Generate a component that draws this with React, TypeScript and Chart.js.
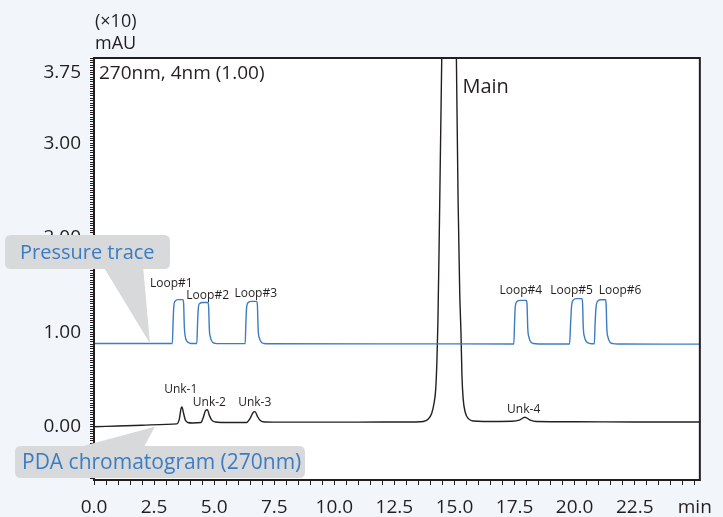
import React, { useEffect, useRef } from "react";
import { Chart, registerables } from "chart.js";

Chart.register(...registerables);

// ---- Pressure trace (blue) : time [min] / level [x10 mAU] ----
const pressureTimes = [
  0, 3.26, 3.29, 3.32, 3.38, 3.5, 3.7, 3.73, 3.76, 3.8, 3.88, 3.98, 4.1,
  4.28, 4.31, 4.34, 4.4, 4.52, 4.74, 4.77, 4.8, 4.85, 4.93, 5.05, 5.2,
  6.29, 6.32, 6.35, 6.42, 6.55, 6.77, 6.8, 6.83, 6.88, 6.96, 7.08, 7.25,
  12.0,
  17.47, 17.5, 17.53, 17.6, 17.73, 17.99, 18.02, 18.05, 18.1, 18.18, 18.3, 18.5,
  19.79, 19.83, 19.87, 19.94, 20.06, 20.3, 20.33, 20.36, 20.41, 20.49, 20.62, 20.75,
  20.82, 20.85, 20.89, 20.96, 21.07, 21.28, 21.31, 21.34, 21.39, 21.47, 21.6, 21.8,
  25.21,
];
const pressureValues = [
  0.88, 0.88, 1.1, 1.27, 1.33, 1.345, 1.345, 1.3, 1.05, 0.95, 0.9, 0.885, 0.88,
  0.88, 1.1, 1.25, 1.305, 1.315, 1.315, 1.27, 1.03, 0.94, 0.895, 0.882, 0.879,
  0.879, 1.1, 1.26, 1.315, 1.326, 1.326, 1.28, 1.03, 0.94, 0.895, 0.881, 0.878,
  0.877,
  0.876, 1.1, 1.27, 1.325, 1.337, 1.337, 1.29, 1.04, 0.945, 0.895, 0.88, 0.876,
  0.876, 1.08, 1.27, 1.34, 1.355, 1.355, 1.31, 1.05, 0.95, 0.9, 0.882, 0.878,
  0.877, 1.08, 1.26, 1.33, 1.344, 1.344, 1.3, 1.04, 0.945, 0.895, 0.879, 0.875,
  0.874,
];

// ---- PDA chromatogram at 270 nm (black) ----
const pdaTimes = [
  0, 1.0, 2.0, 3.0, 3.45, 3.55, 3.62, 3.66, 3.72, 3.8, 3.9, 4.1,
  4.45, 4.55, 4.65, 4.72, 4.8, 4.9, 5.05, 5.3,
  6.35, 6.5, 6.62, 6.7, 6.8, 6.92, 7.1, 8.0, 10.0, 12.0,
  13.4, 13.7, 13.9, 14.05, 14.15, 14.22, 14.27, 14.31, 14.36, 14.42, 14.47, 14.55,
  14.65, 14.78, 14.9, 15.0, 15.08, 15.15, 15.22, 15.27, 15.31, 15.36, 15.45, 15.6,
  15.8, 16.2, 17.4, 17.7, 17.93, 18.15, 18.4, 20.0, 22.5, 25.21,
];
const pdaValues = [
  0.0, 0.008, 0.016, 0.025, 0.03, 0.08, 0.19, 0.21, 0.15, 0.07, 0.045, 0.04,
  0.045, 0.1, 0.175, 0.18, 0.12, 0.07, 0.05, 0.045,
  0.045, 0.09, 0.15, 0.16, 0.11, 0.065, 0.05, 0.048, 0.048, 0.05,
  0.05, 0.055, 0.08, 0.14, 0.25, 0.4, 0.7, 1.1, 1.9, 3.0, 3.9, 5.6,
  7.6, 9.5, 8.4, 5.6, 3.9, 2.4, 1.4, 1.0, 0.55, 0.3, 0.15, 0.08,
  0.06, 0.055, 0.058, 0.07, 0.1, 0.07, 0.055, 0.053, 0.05, 0.05,
];

// ---- Axis ticks ----
const xLabelValues = [0, 2.5, 5, 7.5, 10, 12.5, 15, 17.5, 20, 22.5];
const xUnitLabel = "min";
const yLabelValues = [0, 1, 2, 3, 3.75];

// ---- Peak annotations ----
const loopNames = ["Loop#1", "Loop#2", "Loop#3", "Loop#4", "Loop#5", "Loop#6"];
const loopLabelTimes = [3.22, 4.73, 6.73, 17.76, 19.87, 21.89];
const loopLabelLevels = [1.51, 1.383, 1.404, 1.436, 1.436, 1.436];
const unkNames = ["Unk-1", "Unk-2", "Unk-3", "Unk-4"];
const unkLabelTimes = [3.61, 4.8, 6.69, 17.88];
const unkLabelLevels = [0.388, 0.251, 0.251, 0.177];
const mainName = "Main";
const mainLabelTime = 15.33;
const mainLabelLevel = 3.594;

const FONT = '"Open Sans", "Noto Sans", sans-serif';
const INK = "#231f20";
const BLUE = "#3b7cc4";
const CALLOUT_FILL = "#d8d9da";
const PAGE_BG = "#f2f6fb";

function roundRect(ctx: CanvasRenderingContext2D, x: number, y: number, w: number, h: number, r: number) {
  ctx.beginPath();
  ctx.moveTo(x + r, y);
  ctx.lineTo(x + w - r, y);
  ctx.quadraticCurveTo(x + w, y, x + w, y + r);
  ctx.lineTo(x + w, y + h - r);
  ctx.quadraticCurveTo(x + w, y + h, x + w - r, y + h);
  ctx.lineTo(x + r, y + h);
  ctx.quadraticCurveTo(x, y + h, x, y + h - r);
  ctx.lineTo(x, y + r);
  ctx.quadraticCurveTo(x, y, x + r, y);
  ctx.closePath();
}

const decorations = {
  id: "decorations",
  beforeDraw(chart: any) {
    const { ctx, chartArea: a } = chart;
    ctx.save();
    ctx.fillStyle = PAGE_BG;
    ctx.fillRect(0, 0, chart.width, chart.height);
    ctx.fillStyle = "#ffffff";
    ctx.fillRect(a.left, a.top, a.right - a.left, a.bottom - a.top);
    ctx.restore();
  },
  afterDraw(chart: any) {
    const { ctx, chartArea: a } = chart;
    const xs = chart.scales.x;
    const ys = chart.scales.y;
    ctx.save();

    // plot frame
    ctx.strokeStyle = INK;
    ctx.lineWidth = 2;
    ctx.strokeRect(a.left, a.top, a.right - a.left, a.bottom - a.top);

    // unit label above the y axis
    ctx.fillStyle = INK;
    ctx.textAlign = "left";
    ctx.textBaseline = "middle";
    ctx.font = `18px ${FONT}`;
    ctx.fillText("(×10)", 95, 22);
    ctx.fillText("mAU", 95, 44);

    // detector setting
    ctx.font = `19px ${FONT}`;
    ctx.fillText("270nm, 4nm (1.00)", a.left + 5, 74);

    // main peak name
    ctx.font = `20px ${FONT}`;
    ctx.fillText(mainName, xs.getPixelForValue(mainLabelTime), ys.getPixelForValue(mainLabelLevel));

    // loop and unknown peak names
    ctx.textAlign = "center";
    ctx.font = `12px ${FONT}`;
    loopNames.forEach((n, i) => {
      ctx.fillText(n, xs.getPixelForValue(loopLabelTimes[i]), ys.getPixelForValue(loopLabelLevels[i]));
    });
    unkNames.forEach((n, i) => {
      ctx.fillText(n, xs.getPixelForValue(unkLabelTimes[i]), ys.getPixelForValue(unkLabelLevels[i]));
    });

    // callouts
    const callout = (
      text: string, bx: number, by: number, bw: number, bh: number,
      tri: number[][], size: number, inset: number
    ) => {
      ctx.fillStyle = CALLOUT_FILL;
      ctx.beginPath();
      ctx.moveTo(tri[0][0], tri[0][1]);
      ctx.lineTo(tri[1][0], tri[1][1]);
      ctx.lineTo(tri[2][0], tri[2][1]);
      ctx.closePath();
      ctx.fill();
      roundRect(ctx, bx, by, bw, bh, 6);
      ctx.fill();
      ctx.fillStyle = BLUE;
      ctx.textAlign = "left";
      ctx.textBaseline = "middle";
      ctx.font = `${size}px ${FONT}`;
      ctx.fillText(text, bx + inset, by + bh / 2 + 1);
    };
    const pTipX = xs.getPixelForValue(2.33);
    const pTipY = ys.getPixelForValue(0.88);
    callout("Pressure trace", 5, 235, 165, 34, [[103, 266], [143, 266], [pTipX, pTipY]], 20, 15);
    const dTipX = xs.getPixelForValue(2.53);
    const dTipY = ys.getPixelForValue(0.0);
    callout("PDA chromatogram (270nm)", 15, 446, 290, 32, [[72, 449], [143, 449], [dTipX, dTipY]], 21, 7);

    ctx.restore();
  },
};

export default function App() {
  const ref = useRef<HTMLCanvasElement>(null);

  useEffect(() => {
    if (!ref.current) return;
    const pressureData = pressureTimes.map((t, i) => ({ x: t, y: pressureValues[i] }));
    const pdaData = pdaTimes.map((t, i) => ({ x: t, y: pdaValues[i] }));

    const chart = new Chart(ref.current, {
      type: "line",
      data: {
        datasets: [
          {
            label: "Pressure trace",
            data: pressureData,
            borderColor: BLUE,
            borderWidth: 1.4,
            pointRadius: 0,
            cubicInterpolationMode: "monotone",
            fill: false,
          },
          {
            label: "PDA chromatogram (270nm)",
            data: pdaData,
            borderColor: INK,
            borderWidth: 1.4,
            pointRadius: 0,
            cubicInterpolationMode: "monotone",
            fill: false,
          },
        ],
      },
      options: {
        responsive: false,
        animation: false,
        devicePixelRatio: 1,
        layout: { padding: { left: 0, right: 22, top: 58, bottom: 0 } },
        plugins: { legend: { display: false }, tooltip: { enabled: false } },
        scales: {
          x: {
            type: "linear",
            min: 0,
            max: 25.21,
            afterBuildTicks: (scale: any) => {
              const t = [];
              for (let i = 0; i <= 50; i++) t.push({ value: i * 0.5 });
              scale.ticks = t;
            },
            afterFit: (scale: any) => {
              scale.height = 37;
            },
            ticks: {
              autoSkip: false,
              maxRotation: 0,
              padding: 11,
              color: INK,
              font: { family: FONT, size: 19 },
              callback: (v: any) => {
                const val = Number(v);
                if (Math.abs(val - 25) < 1e-6) return xUnitLabel;
                const hit = xLabelValues.find((l) => Math.abs(l - val) < 1e-6);
                return hit !== undefined ? hit.toFixed(1) : "";
              },
            },
            grid: { drawOnChartArea: false, drawTicks: true, tickLength: 5, color: INK, lineWidth: 1 },
            border: { display: false },
          },
          y: {
            type: "linear",
            min: -0.564,
            max: 3.902,
            afterBuildTicks: (scale: any) => {
              const t = [];
              for (let i = -22; i <= 156; i++) t.push({ value: i * 0.025 });
              scale.ticks = t;
            },
            afterFit: (scale: any) => {
              scale.width = 94;
            },
            ticks: {
              autoSkip: false,
              padding: 9,
              color: INK,
              font: { family: FONT, size: 19 },
              callback: (v: any) => {
                const val = Number(v);
                const hit = yLabelValues.find((l) => Math.abs(l - val) < 1e-6);
                return hit !== undefined ? hit.toFixed(2) : "";
              },
            },
            grid: { drawOnChartArea: false, drawTicks: true, tickLength: 4, color: INK, lineWidth: 1 },
            border: { display: false },
          },
        },
      },
      plugins: [decorations],
    } as any);

    return () => chart.destroy();
  }, []);

  return (
    <div style={{ position: "fixed", left: 0, top: 0, width: 723, height: 517, background: PAGE_BG }}>
      <canvas ref={ref} width={723} height={517} style={{ display: "block" }} />
    </div>
  );
}
